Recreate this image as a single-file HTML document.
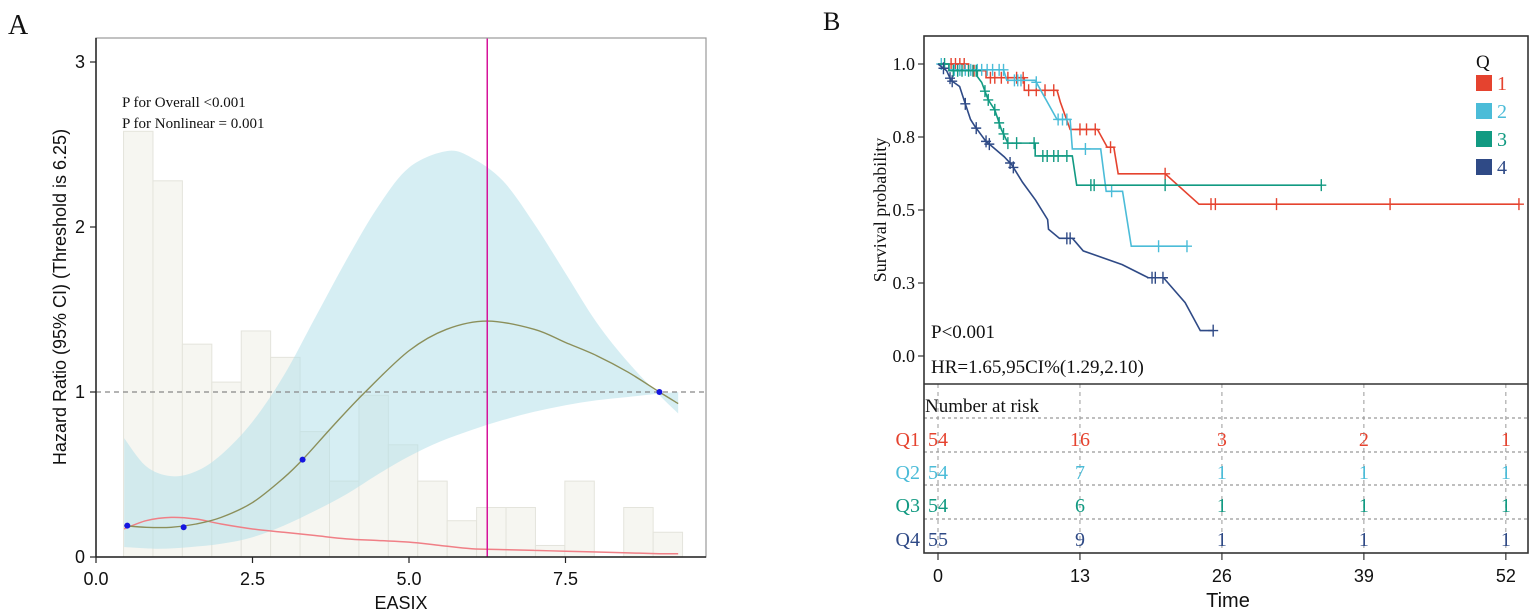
<!DOCTYPE html>
<html><head><meta charset="utf-8">
<style>
html,body{margin:0;padding:0;background:#fff;}
svg{display:block;}
.sans{font-family:"Liberation Sans",sans-serif;}
.serif{font-family:"Liberation Serif",serif;}
</style></head>
<body>
<svg id="fig" width="1535" height="614" viewBox="0 0 1535 614" xmlns="http://www.w3.org/2000/svg">
<g id="pa"></g>
<g id="pb"></g>
</svg>
<script>
// ---------- Panel A data ----------
const histStart = 0.44, histWidth = 0.47;
const histHeights = [2.58,2.28,1.29,1.06,1.37,1.21,0.76,0.46,0.98,0.68,0.46,0.22,0.30,0.30,0.07,0.46,0,0.30,0.15];
const hrX = [0.45,0.8,1.2,1.6,2.0,2.5,3.0,3.3,3.8,4.3,5.0,5.6,6.25,7.0,7.5,8.0,8.5,9.0,9.3];
const hrY = [0.19,0.18,0.18,0.20,0.24,0.33,0.48,0.59,0.80,1.00,1.25,1.38,1.43,1.38,1.30,1.22,1.12,1.00,0.93];
const upX = [0.45,0.8,1.2,1.6,2.0,2.5,3.0,3.5,4.0,4.5,5.0,5.6,6.0,6.5,7.0,7.5,8.0,8.5,9.0,9.3];
const upY = [0.72,0.55,0.49,0.52,0.62,0.82,1.10,1.45,1.80,2.12,2.36,2.46,2.42,2.28,2.02,1.72,1.42,1.18,0.98,0.87];
const loX = [0.45,1.0,1.5,2.0,2.5,3.0,3.5,4.0,4.5,5.0,5.5,6.0,6.5,7.0,7.5,8.0,8.5,9.0,9.3];
const loY = [0.06,0.05,0.06,0.08,0.12,0.19,0.28,0.38,0.50,0.61,0.70,0.77,0.83,0.88,0.92,0.95,0.97,0.99,1.00];
const denX = [0.45,0.8,1.2,1.6,2.0,2.5,3.0,3.5,4.0,4.5,5.0,5.5,6.0,6.5,7.0,7.5,8.0,8.5,9.0,9.3];
const denY = [0.17,0.22,0.24,0.23,0.20,0.17,0.15,0.13,0.11,0.10,0.09,0.07,0.05,0.045,0.04,0.035,0.03,0.025,0.02,0.02];
const knotX = [0.5,1.4,3.3,9.0];
const knotY = [0.19,0.18,0.59,1.0];
const threshold = 6.25;
const aXTicks = [0,2.5,5,7.5];
const aXTickLabels = ["0.0","2.5","5.0","7.5"];
const aYTicks = [0,1,2,3];

// ---------- Panel B data ----------
const groups = ["1","2","3","4"];
const colors = ["#e5432f","#4bbcd8","#129a82","#2f4a86"];
const kmT = [
 [0,2.8,2.8,4.4,4.4,7.9,7.9,10.9,11.2,12.1,14.6,15.5,16.1,16.5,20.8,23.9,53.2],
 [0,1,1,6,6.3,8.9,9.9,10.9,12.1,12.3,14.9,15.4,16.9,17.7,22.8],
 [0,1,1,3.6,3.6,4,4.6,5.2,5.8,6.4,8.9,8.9,12.3,12.7,35.1],
 [0,0.79,1.19,1.98,2.38,2.98,3.37,4.37,5.16,6.07,6.75,7.74,8.93,10.04,10.12,11.12,12.31,13.3,16.87,19.26,20.65,22.63,24.02,25.21]
];
const kmS = [
 [1,1,0.977,0.977,0.953,0.953,0.91,0.91,0.87,0.776,0.776,0.715,0.715,0.624,0.624,0.52,0.52],
 [1,1,0.98,0.98,0.944,0.944,0.877,0.81,0.81,0.709,0.709,0.564,0.564,0.376,0.376],
 [1,1,0.977,0.977,0.957,0.937,0.877,0.843,0.776,0.729,0.729,0.685,0.685,0.585,0.585],
 [1,0.977,0.944,0.923,0.877,0.81,0.787,0.736,0.711,0.682,0.655,0.595,0.534,0.467,0.434,0.403,0.403,0.36,0.313,0.268,0.268,0.183,0.087,0.087]
];
const censT = [
 [1.2,1.6,2.0,2.4,3.3,4.8,5.2,5.8,6.4,7.2,7.8,8.3,9.0,9.8,10.6,13.0,13.6,14.4,15.8,20.8,25.0,25.4,31.0,41.4,53.2],
 [0.3,1.5,2.0,2.5,3.0,3.6,4.0,4.5,5.0,5.6,6.0,7.0,7.3,7.6,9.0,11.0,11.4,11.8,13.5,15.9,20.2,22.8],
 [0.6,1.4,1.8,2.2,2.8,3.2,3.5,4.3,4.6,5.2,5.6,6.0,6.4,7.2,8.8,9.6,10.0,10.6,11.0,11.8,14.0,14.3,20.8,35.1],
 [0.5,1.1,1.3,2.5,3.5,4.4,4.7,6.6,6.9,11.8,12.1,19.6,19.9,20.6,25.2]
];
const bXTicks = [0,13,26,39,52];
const bYTicks = [0,0.25,0.5,0.75,1.0];
const bYTickLabels = ["0.0","0.3","0.5","0.8","1.0"];
const riskRows = ["Q1","Q2","Q3","Q4"];
const riskVals = [[54,16,3,2,1],[54,7,1,1,1],[54,6,1,1,1],[55,9,1,1,1]];

const NS = "http://www.w3.org/2000/svg";
function mk(parent, tag, attrs, text){
  const e = document.createElementNS(NS, tag);
  for (const k in attrs) e.setAttribute(k, attrs[k]);
  if (text !== undefined) e.textContent = text;
  parent.appendChild(e);
  return e;
}

// ---------- Panel A ----------
const pa = document.getElementById('pa');
const ax = v => 96 + v * 62.6;
const ay = v => 557 - v * 165;
function crPath(xs, ys, start){
  const P = xs.map((x,i)=>[ax(x), ay(ys[i])]);
  let d = (start||'M') + P[0][0] + ',' + P[0][1];
  for (let i=0;i<P.length-1;i++){
    const p0=P[Math.max(0,i-1)], p1=P[i], p2=P[i+1], p3=P[Math.min(P.length-1,i+2)];
    const c1=[p1[0]+(p2[0]-p0[0])/6, p1[1]+(p2[1]-p0[1])/6];
    const c2=[p2[0]-(p3[0]-p1[0])/6, p2[1]-(p3[1]-p1[1])/6];
    d += ` C${c1[0]},${c1[1]} ${c2[0]},${c2[1]} ${p2[0]},${p2[1]}`;
  }
  return d;
}
let t = mk(pa,'text',{x:8,y:34,class:'serif','font-size':28,fill:'#111'},'A');


histHeights.forEach((h,i)=>{
  if (h<=0) return;
  const x0 = ax(histStart + i*histWidth), x1 = ax(histStart + (i+1)*histWidth);
  const r = mk(pa,'rect',{x:x0,y:ay(h),width:x1-x0,height:ay(0)-ay(h),fill:'#f6f6f1',stroke:'#e4e4dc','stroke-width':1});
  
  
});
const rx = loX.slice().reverse(), ry = loY.slice().reverse();
let d = crPath(upX, upY) + ' ' + crPath(rx, ry, 'L') + ' Z';
let band = mk(pa,'path',{d:d,fill:'#b5e0ea','fill-opacity':0.55,stroke:'none'});


let ref = mk(pa,'line',{x1:96,x2:706,y1:ay(1),y2:ay(1),stroke:'#888','stroke-width':1.2,'stroke-dasharray':'5,4'});


let den = mk(pa,'path',{d:crPath(denX,denY),fill:'none',stroke:'#f07f86','stroke-width':1.5});


let hr = mk(pa,'path',{d:crPath(hrX,hrY),fill:'none',stroke:'#8b8f5a','stroke-width':1.4});


let th = mk(pa,'line',{x1:ax(threshold),x2:ax(threshold),y1:38,y2:557,stroke:'#d6139a','stroke-width':1.5});


knotX.forEach((x,i)=>{
  const c = mk(pa,'circle',{cx:ax(x),cy:ay(knotY[i]),r:3,fill:'#1515e0'});
  
  
});
let fr = mk(pa,'rect',{x:96,y:38,width:610,height:519,fill:'none',stroke:'#999','stroke-width':1.2});


mk(pa,'line',{x1:96,x2:706,y1:557,y2:557,stroke:'#222','stroke-width':1.5});
mk(pa,'line',{x1:96,x2:96,y1:38,y2:557,stroke:'#222','stroke-width':1.5});
aXTicks.forEach((v,i)=>{
  mk(pa,'line',{x1:ax(v),x2:ax(v),y1:557,y2:563,stroke:'#222','stroke-width':1.2});
  const tl = mk(pa,'text',{x:ax(v),y:585,'text-anchor':'middle',class:'sans','font-size':18,fill:'#111'},aXTickLabels[i]);
  
  
});
aYTicks.forEach(v=>{
  mk(pa,'line',{x1:90,x2:96,y1:ay(v),y2:ay(v),stroke:'#222','stroke-width':1.2});
  const tl = mk(pa,'text',{x:85,y:ay(v)+6,'text-anchor':'end',class:'sans','font-size':18,fill:'#111'},String(v));
  
  
});
t = mk(pa,'text',{x:401,y:609,'text-anchor':'middle',class:'sans','font-size':18,fill:'#111'},'EASIX');


t = mk(pa,'text',{x:0,y:0,'text-anchor':'middle',class:'sans','font-size':18,fill:'#111',transform:'translate(66,297) rotate(-90)'},'Hazard Ratio (95% CI) (Threshold is 6.25)');


t = mk(pa,'text',{x:122,y:107,class:'serif','font-size':15,fill:'#111'},'P for Overall <0.001');


t = mk(pa,'text',{x:122,y:128,class:'serif','font-size':15,fill:'#111'},'P for Nonlinear = 0.001');



// ---------- Panel B ----------
const pb = document.getElementById('pb');
const bx = v => 938 + v * 10.92;
const by = v => 356 - v * 292;
t = mk(pb,'text',{x:823,y:30,class:'serif','font-size':26,fill:'#111'},'B');


bXTicks.forEach(v=>{
  mk(pb,'line',{x1:bx(v),x2:bx(v),y1:384,y2:553,stroke:'#999','stroke-width':1,'stroke-dasharray':'4,4'});
});
[418,452,485,519].forEach(y=>{
  const l = mk(pb,'line',{x1:924,x2:1528,y1:y,y2:y,stroke:'#999','stroke-width':1.2,'stroke-dasharray':'3,3'});
  
  
});
function survAt(g,tv){
  const T=kmT[g],S=kmS[g];
  for(let i=0;i<T.length-1;i++){
    if(tv>=T[i]&&tv<=T[i+1]){ if(T[i+1]===T[i]) return S[i+1]; return S[i]+(S[i+1]-S[i])*(tv-T[i])/(T[i+1]-T[i]); }
  }
  return S[S.length-1];
}
groups.forEach((gname,g)=>{
  const pts = kmT[g].map((tv,i)=>bx(tv)+','+by(kmS[g][i])).join(' ');
  const pl = mk(pb,'polyline',{points:pts,fill:'none',stroke:colors[g],'stroke-width':1.6});
  
  
  censT[g].forEach(tv=>{
    const cx=bx(tv), cy=by(survAt(g,tv));
    const c = mk(pb,'path',{d:`M${cx-5},${cy} L${cx+5},${cy} M${cx},${cy-6} L${cx},${cy+6}`,stroke:colors[g],'stroke-width':1.4,fill:'none'});
    
    
  });
});
let fb = mk(pb,'rect',{x:924,y:36,width:604,height:517,fill:'none',stroke:'#333','stroke-width':1.6});


mk(pb,'line',{x1:924,x2:1528,y1:384,y2:384,stroke:'#333','stroke-width':1.6});
bYTicks.forEach((v,i)=>{
  mk(pb,'line',{x1:918,x2:924,y1:by(v),y2:by(v),stroke:'#333','stroke-width':1.2});
  const tl = mk(pb,'text',{x:915,y:by(v)+6,'text-anchor':'end',class:'serif','font-size':18,fill:'#111'},bYTickLabels[i]);
  
  
});
bXTicks.forEach(v=>{
  mk(pb,'line',{x1:bx(v),x2:bx(v),y1:553,y2:560,stroke:'#333','stroke-width':1.2});
  const tl = mk(pb,'text',{x:bx(v),y:582,'text-anchor':'middle',class:'sans','font-size':18,fill:'#111'},String(v));
  
  
});
t = mk(pb,'text',{x:1228,y:607,'text-anchor':'middle',class:'sans','font-size':20,fill:'#111'},'Time');


t = mk(pb,'text',{x:0,y:0,'text-anchor':'middle',class:'serif','font-size':18,fill:'#111',transform:'translate(886,210) rotate(-90)'},'Survival probability');


t = mk(pb,'text',{x:931,y:338,class:'serif','font-size':19,fill:'#111'},'P<0.001');


t = mk(pb,'text',{x:931,y:373,class:'serif','font-size':19,fill:'#111'},'HR=1.65,95CI%(1.29,2.10)');


t = mk(pb,'text',{x:925,y:412,class:'serif','font-size':19,fill:'#111'},'Number at risk');


const rowY=[446,479,512,546];
riskRows.forEach((rn,r)=>{
  const rl = mk(pb,'text',{x:920,y:rowY[r],'text-anchor':'end',class:'serif','font-size':20,fill:colors[r]},rn);
  
  
  riskVals[r].forEach((v,c)=>{
    const tv = mk(pb,'text',{x:bx(bXTicks[c]),y:rowY[r],'text-anchor':'middle',class:'serif','font-size':20,fill:colors[r]},String(v));
    
    
  });
});
t = mk(pb,'text',{x:1476,y:68,class:'serif','font-size':19,fill:'#111'},'Q');


groups.forEach((gname,g)=>{
  const y = 75 + g*28;
  const sq = mk(pb,'rect',{x:1476,y:y,width:16,height:16,fill:colors[g]});
  
  
  const lt = mk(pb,'text',{x:1497,y:y+15,class:'serif','font-size':20,fill:colors[g]},gname);
  
  
});
</script>
</body></html>
